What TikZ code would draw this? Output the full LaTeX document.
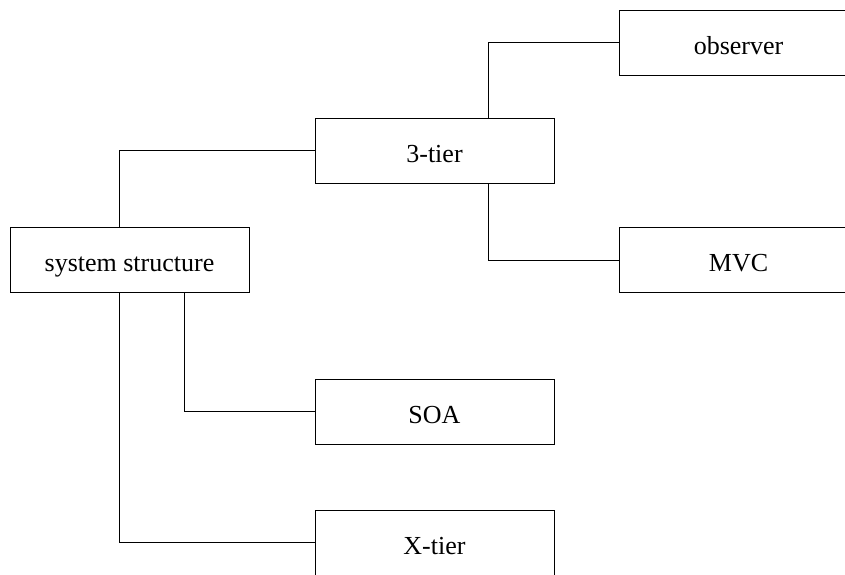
\documentclass[tikz,border=0pt]{standalone}
\usepackage{fontspec}
\setmainfont{Liberation Serif}
\usepackage{tikz}
\usetikzlibrary{calc}
\tikzset{
    item/.style={
        draw,
        line width=0.5pt,
        minimum width=119.5pt,
        minimum height=32.5pt,
        inner sep=0pt,
        text height=11.5pt,
        text depth=0pt,
        align=center,
        font=\fontsize{13}{15}\selectfont
    },
    link/.style={
        line width=0.5pt
    }
}
\begin{document}
\begin{tikzpicture}[x=0.5pt, y=-0.5pt]

\useasboundingbox (0,0) rectangle (845,574);
\clip (0,0) rectangle (845,574);

\node[item] (sys) at (129.5,259.5) {system structure};
\node[item] (tier3) at (434.5,150.5) {3-tier};
\node[item] (observer) at (738.5,42.5) {observer};
\node[item] (mvc) at (738.5,260) {MVC};
\node[item] (soa) at (434.5,411.5) {SOA};
\node[item] (xtier) at (434.5,542.5) {X-tier};

\draw[link] ([xshift=-5.25pt]sys.north) |- (tier3.west);
\draw[link] ([xshift=26.75pt]tier3.north) |- (observer.west);
\draw[link] ([xshift=26.75pt]tier3.south) |- (mvc.west);
\draw[link] ([xshift=27.25pt]sys.south) |- (soa.west);
\draw[link] ([xshift=-5.25pt]sys.south) |- (xtier.west);

\end{tikzpicture}
\end{document}
